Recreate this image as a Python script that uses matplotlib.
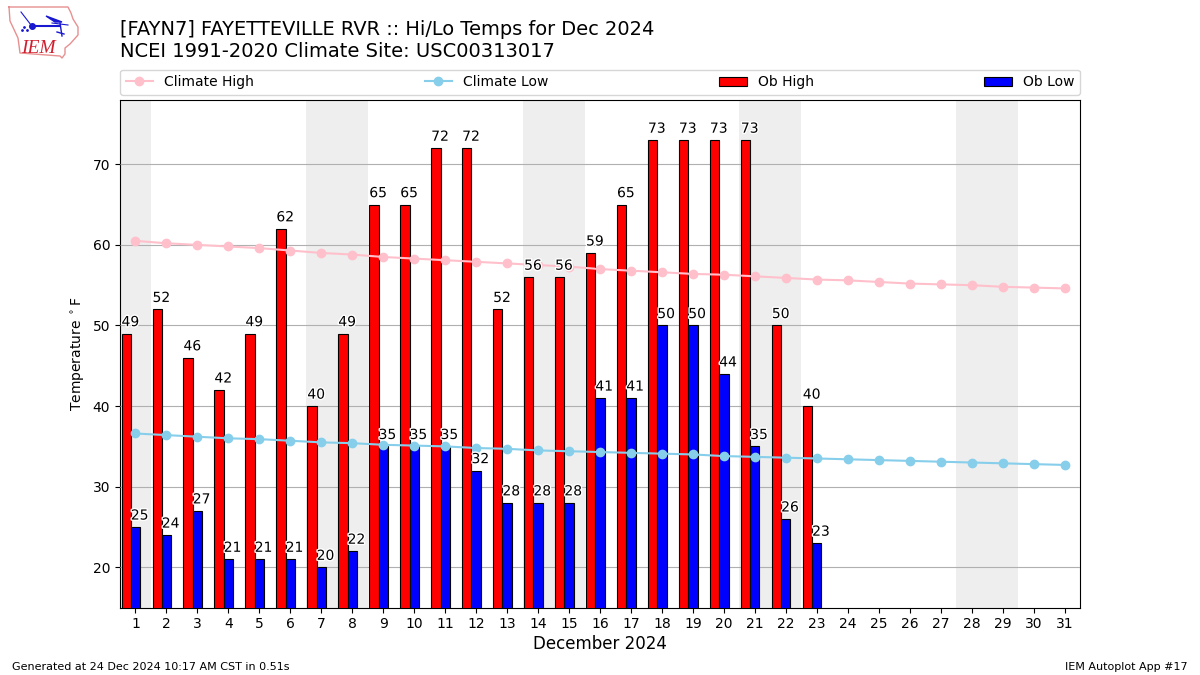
import matplotlib
matplotlib.use('Agg')
import matplotlib.pyplot as plt
import matplotlib.patheffects as pe

days = list(range(1, 32))
ob_high = [49, 52, 46, 42, 49, 62, 40, 49, 65, 65, 72, 72, 52, 56, 56, 59, 65, 73, 73, 73, 73, 50, 40]
ob_low = [25, 24, 27, 21, 21, 21, 20, 22, 35, 35, 35, 32, 28, 28, 28, 41, 41, 50, 50, 44, 35, 26, 23]
climate_high = [60.5, 60.2, 60.0, 59.8, 59.6, 59.3, 59.0, 58.8, 58.5, 58.3, 58.1, 57.9, 57.7, 57.5, 57.3, 57.0,
                56.8, 56.6, 56.4, 56.3, 56.1, 55.9, 55.7, 55.6, 55.4, 55.2, 55.1, 55.0, 54.8, 54.7, 54.6]
climate_low = [36.6, 36.4, 36.2, 36.0, 35.9, 35.7, 35.5, 35.4, 35.2, 35.1, 35.0, 34.8, 34.7, 34.5, 34.4, 34.3,
               34.2, 34.1, 34.0, 33.8, 33.7, 33.6, 33.5, 33.4, 33.3, 33.2, 33.1, 33.0, 32.9, 32.8, 32.7]
weekends = [(0.5, 1.5), (6.5, 8.5), (13.5, 15.5), (20.5, 22.5), (27.5, 29.5)]

# rough outline of the logo, in pixels of a 80x58 box
logo_x = [4, 30, 63, 66, 68, 73, 73, 65, 60, 60, 57, 55, 15, 13, 5, 4]
logo_y = [4, 4, 4, 10, 16, 24, 32, 41, 45, 51, 55, 53, 50, 35, 18, 4]
wing_x = [41, 57, 50]
wing_y = [13, 19, 19]

fig = plt.figure(figsize=(12, 6.75), dpi=100)
ax = fig.add_axes([120 / 1200, 1 - 607.6 / 675, 960 / 1200, 507.8 / 675])

for start, end in weekends:
    ax.axvspan(start, end, color='#EEEEEE', zorder=1, lw=0)

ax.grid(axis='y', color='#b0b0b0', lw=0.8, zorder=2)
ax.set_axisbelow(False)

ax.plot(days, climate_high, marker='o', color='pink', label='Climate High', zorder=4)
ax.plot(days, climate_low, marker='o', color='skyblue', label='Climate Low', zorder=4)

high_days = days[:len(ob_high)]
low_days = days[:len(ob_low)]
ax.bar([d - 0.3 for d in high_days], ob_high, width=0.3, color='r', edgecolor='k', lw=0.8, label='Ob High', zorder=3)
ax.bar(low_days, ob_low, width=0.3, color='b', edgecolor='k', lw=0.8, label='Ob Low', zorder=3)

# value labels sit on the left edge of each bar
halo = [pe.withStroke(linewidth=2, foreground='white')]
for d, v in zip(high_days, ob_high):
    ax.text(d - 0.45, v + 0.55, str(v), ha='left', va='bottom', fontsize=10, path_effects=halo, zorder=5)
for d, v in zip(low_days, ob_low):
    ax.text(d - 0.15, v + 0.55, str(v), ha='left', va='bottom', fontsize=10, path_effects=halo, zorder=5)

ax.set_xlim(0.5, 31.5)
ax.set_ylim(15, 78)
ax.set_xticks(days)
ax.set_yticks([20, 30, 40, 50, 60, 70])
ax.set_xlabel('December 2024', fontsize=12, labelpad=2.5)
ax.set_ylabel(r'Temperature $^\circ$F')

ax.legend(loc='lower left', bbox_to_anchor=(0, 1 + 5 / 508, 1, 0.05), mode='expand', ncol=4, borderaxespad=0)

fig.text(120 / 1200, 1 - 35 / 675, '[FAYN7] FAYETTEVILLE RVR :: Hi/Lo Temps for Dec 2024', fontsize=13.99, va='baseline')
fig.text(120 / 1200, 1 - 57 / 675, 'NCEI 1991-2020 Climate Site: USC00313017', fontsize=14, va='baseline')
fig.text(12 / 1200, 1 - 670 / 675, 'Generated at 24 Dec 2024 10:17 AM CST in 0.51s', fontsize=8, va='baseline')
fig.text(1188 / 1200, 1 - 670 / 675, 'IEM Autoplot App #17', fontsize=8, ha='right', va='baseline')

# logo
logo = fig.add_axes([5 / 1200, 1 - 61 / 675, 80 / 1200, 58 / 675])
logo.set_xlim(0, 80)
logo.set_ylim(58, 0)
logo.axis('off')
logo.plot(logo_x, logo_y, color='#e89090', lw=1)
logo.plot([27, 55], [23, 23], color='#1818d0', lw=1.5)
logo.plot([27], [23], 'o', color='#1818d0', ms=4)
logo.plot([16, 26], [9, 22], color='#1818d0', lw=0.8)
logo.plot([47, 63], [20, 22], color='#1818d0', lw=0.8)
logo.plot([55, 57], [20, 33], color='#1818d0', lw=1)
logo.plot([52, 59], [29, 31], color='#1818d0', lw=1)
logo.plot([19, 22, 17], [24, 27, 27], 'o', color='#1818d0', ms=1)
logo.fill(wing_x, wing_y, color='#1818d0')
logo.text(16, 50, 'IEM', color='#d02030', fontsize=14, family='Liberation Serif', style='italic', va='baseline')

fig.savefig('out.png', dpi=100)
